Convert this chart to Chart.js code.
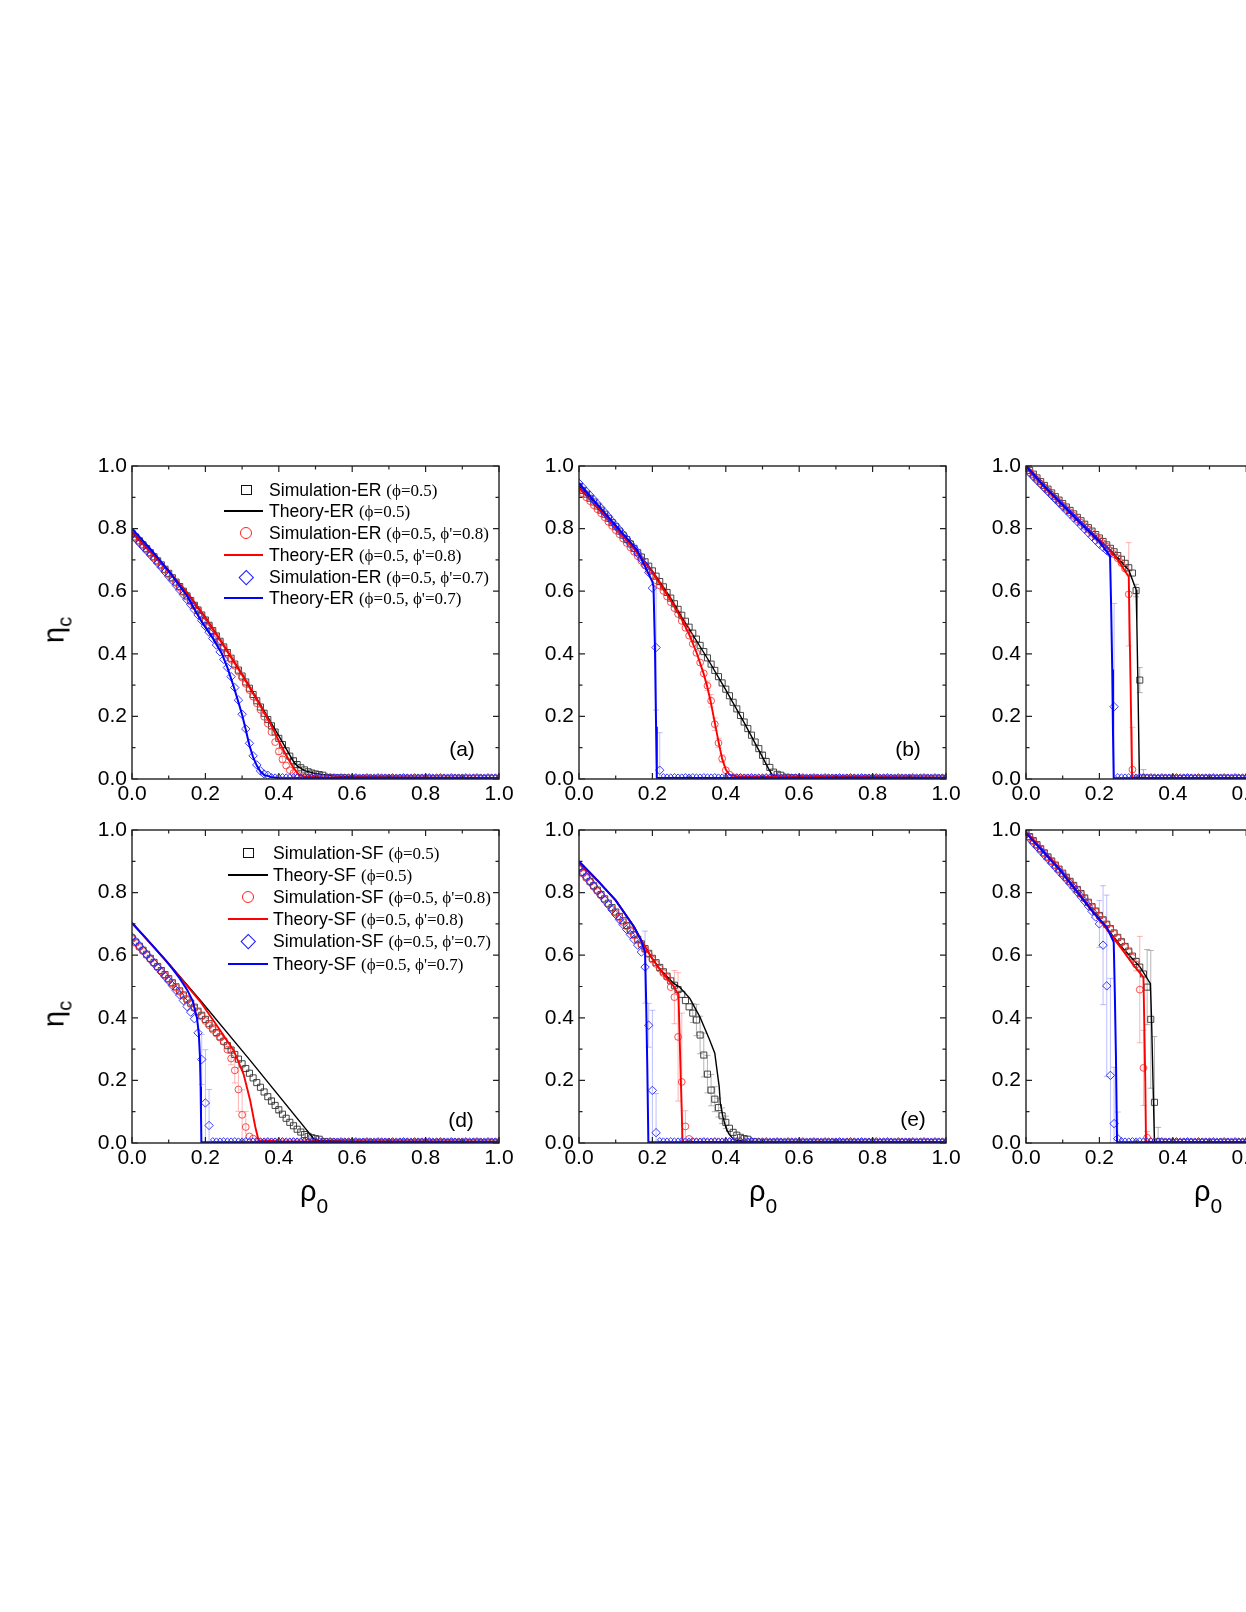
<!DOCTYPE html>
<html><head><meta charset="utf-8">
<script src="https://cdn.jsdelivr.net/npm/chart.js@4/dist/chart.umd.min.js"></script>
<style>
html,body{margin:0;padding:0;width:1246px;height:1612px;overflow:hidden;background:#fff;}
.panel{position:absolute;}
.abs{position:absolute;white-space:nowrap;color:#000;line-height:1;}
.sans{font-family:"Liberation Sans",Arial,sans-serif;}
.serif{font-family:"Liberation Serif","DejaVu Serif",serif;}
.row{position:absolute;height:22px;line-height:22px;white-space:nowrap;}
</style></head><body>
<div class="panel" style="left:62px;top:446px"><canvas id="ca" width="477" height="373"></canvas></div>
<div class="panel" style="left:509px;top:446px"><canvas id="cb" width="477" height="373"></canvas></div>
<div class="panel" style="left:956px;top:446px"><canvas id="cc" width="477" height="373"></canvas></div>
<div class="panel" style="left:62px;top:810px"><canvas id="cd" width="477" height="373"></canvas></div>
<div class="panel" style="left:509px;top:810px"><canvas id="ce" width="477" height="373"></canvas></div>
<div class="panel" style="left:956px;top:810px"><canvas id="cf" width="477" height="373"></canvas></div>
<div id="overlay"></div>
<script>
// ---------- data ----------
const RHO = [0,0.01,0.02,0.03,0.04,0.05,0.06,0.07,0.08,0.09,
0.10,0.11,0.12,0.13,0.14,0.15,0.16,0.17,0.18,0.19,
0.20,0.21,0.22,0.23,0.24,0.25,0.26,0.27,0.28,0.29,
0.30,0.31,0.32,0.33,0.34,0.35,0.36,0.37,0.38,0.39,
0.40,0.41,0.42,0.43,0.44,0.45,0.46,0.47,0.48,0.49,
0.50,0.51,0.52,0.53,0.54,0.55,0.56,0.57,0.58,0.59,
0.60,0.61,0.62,0.63,0.64,0.65,0.66,0.67,0.68,0.69,
0.70,0.71,0.72,0.73,0.74,0.75,0.76,0.77,0.78,0.79,
0.80,0.81,0.82,0.83,0.84,0.85,0.86,0.87,0.88,0.89,
0.90,0.91,0.92,0.93,0.94,0.95,0.96,0.97,0.98,0.99,1.00];
const X_TICKS = [0,0.2,0.4,0.6,0.8,1.0];
const Y_TICKS = [0,0.2,0.4,0.6,0.8,1.0];
const MINOR_TICKS = [0.1,0.3,0.5,0.7,0.9];
const PANEL_TAGS = ['(a)','(b)','(c)','(d)','(e)','(f)'];
const NAMES_ER = ['Simulation-ER','Theory-ER','Simulation-ER','Theory-ER','Simulation-ER','Theory-ER'];
const NAMES_SF = ['Simulation-SF','Theory-SF','Simulation-SF','Theory-SF','Simulation-SF','Theory-SF'];
const PARAMS = ['(ϕ=0.5)','(ϕ=0.5)',"(ϕ=0.5, ϕ'=0.8)","(ϕ=0.5, ϕ'=0.8)","(ϕ=0.5, ϕ'=0.7)","(ϕ=0.5, ϕ'=0.7)"];

// panel (a) ER
const A_BLACK = [0.785,0.773,0.761,0.748,0.736,0.723,0.710,0.697,0.684,0.670,
0.657,0.643,0.629,0.615,0.600,0.585,0.570,0.555,0.540,0.524,
0.508,0.491,0.474,0.457,0.440,0.422,0.404,0.386,0.367,0.348,
0.329,0.310,0.290,0.270,0.250,0.230,0.210,0.190,0.170,0.150,
0.130,0.110,0.090,0.073,0.058,0.046,0.036,0.029,0.023,0.019,
0.016,0.014,0.012,0.011,0.010,0.010,0.009,0.009,0.009,0.008,
0.007,0.007,0.006,0.007,0.007,0.007,0.006,0.007,0.007,0.007,
0.007,0.007,0.006,0.007,0.007,0.007,0.006,0.007,0.007,0.007,
0.007,0.007,0.006,0.007,0.007,0.007,0.006,0.007,0.007,0.007,
0.007,0.007,0.006,0.007,0.007,0.007,0.006,0.007,0.007,0.007,0.007];
const A_RED = [0.780,0.769,0.757,0.745,0.733,0.720,0.707,0.694,0.681,0.668,
0.654,0.640,0.626,0.612,0.597,0.582,0.567,0.552,0.537,0.521,
0.505,0.488,0.471,0.454,0.436,0.418,0.400,0.381,0.362,0.343,
0.324,0.304,0.284,0.263,0.242,0.221,0.199,0.177,0.150,0.118,
0.088,0.063,0.043,0.028,0.019,0.014,0.011,0.010,0.009,0.009,
0.008,0.008,0.007,0.008,0.008,0.008,0.007,0.008,0.008,0.008,
0.008,0.008,0.007,0.008,0.008,0.008,0.007,0.008,0.008,0.008,
0.008,0.008,0.007,0.008,0.008,0.008,0.007,0.008,0.008,0.008,
0.008,0.008,0.007,0.008,0.008,0.008,0.007,0.008,0.008,0.008,
0.008,0.008,0.007,0.008,0.008,0.008,0.007,0.008,0.008,0.008,0.008];
const A_BLUE = [0.780,0.768,0.755,0.742,0.729,0.716,0.703,0.690,0.676,0.662,
0.648,0.634,0.619,0.604,0.589,0.573,0.557,0.541,0.524,0.506,
0.488,0.469,0.449,0.428,0.406,0.382,0.356,0.327,0.292,0.252,
0.207,0.160,0.114,0.074,0.045,0.026,0.016,0.012,0.010,0.009,
0.009,0.010,0.009,0.009,0.010,0.009,0.009,0.010,0.009,0.009,
0.009,0.010,0.009,0.009,0.010,0.009,0.009,0.010,0.009,0.009,
0.009,0.010,0.009,0.009,0.010,0.009,0.009,0.010,0.009,0.009,
0.009,0.010,0.009,0.009,0.010,0.009,0.009,0.010,0.009,0.009,
0.009,0.010,0.009,0.009,0.010,0.009,0.009,0.010,0.009,0.009,
0.009,0.010,0.009,0.009,0.010,0.009,0.009,0.010,0.009,0.009,0.009];
const TH_A_BLACK = [[0,0.79],[0.05,0.728],[0.1,0.665],[0.15,0.597],[0.2,0.517],[0.25,0.428],[0.3,0.335],[0.35,0.238],[0.4,0.138],[0.43,0.076],[0.44,0.056],[0.45,0.042],[0.47,0.027],[0.5,0.017],[0.55,0.01],[0.6,0.007],[0.8,0.005],[1,0.004]];
const TH_A_RED = [[0,0.786],[0.05,0.725],[0.1,0.662],[0.15,0.594],[0.2,0.514],[0.25,0.425],[0.3,0.332],[0.35,0.233],[0.38,0.17],[0.4,0.122],[0.42,0.076],[0.44,0.036],[0.455,0.013],[0.47,0.008],[0.5,0.006],[1,0.003]];
const TH_A_BLUE = [[0,0.80],[0.05,0.735],[0.1,0.665],[0.15,0.585],[0.19,0.502],[0.22,0.45],[0.245,0.40],[0.26,0.356],[0.277,0.296],[0.29,0.245],[0.3,0.205],[0.31,0.157],[0.32,0.107],[0.33,0.07],[0.34,0.043],[0.35,0.024],[0.36,0.013],[0.38,0.006],[0.4,0.003],[1,0.002]];
const ERR_A_BLACK = [[0.44,0.01],[0.45,0.01]];
const ERR_A_RED = [[0.40,0.01],[0.41,0.01]];
const ERR_A_BLUE = [];

// panel (b)
const B_BLACK = [0.935,0.922,0.910,0.897,0.885,0.872,0.859,0.846,0.833,0.819,
0.806,0.792,0.779,0.765,0.751,0.737,0.723,0.709,0.694,0.680,
0.665,0.648,0.631,0.614,0.596,0.578,0.560,0.542,0.523,0.504,
0.485,0.466,0.447,0.427,0.407,0.387,0.367,0.347,0.327,0.307,
0.287,0.266,0.245,0.224,0.203,0.182,0.161,0.140,0.118,0.097,
0.076,0.056,0.037,0.022,0.015,0.012,0.011,0.010,0.009,0.009,
0.007,0.007,0.006,0.007,0.007,0.007,0.006,0.007,0.007,0.007,
0.007,0.007,0.006,0.007,0.007,0.007,0.006,0.007,0.007,0.007,
0.007,0.007,0.006,0.007,0.007,0.007,0.006,0.007,0.007,0.007,
0.007,0.007,0.006,0.007,0.007,0.007,0.006,0.007,0.007,0.007,0.007];
const B_RED = [0.925,0.913,0.900,0.888,0.875,0.862,0.849,0.836,0.822,0.809,
0.795,0.782,0.768,0.754,0.740,0.726,0.712,0.697,0.682,0.667,
0.651,0.635,0.618,0.601,0.583,0.565,0.546,0.527,0.505,0.483,
0.458,0.432,0.403,0.372,0.337,0.298,0.250,0.175,0.115,0.065,
0.028,0.014,0.011,0.010,0.009,0.009,0.009,0.008,0.008,0.008,
0.008,0.008,0.007,0.008,0.008,0.008,0.007,0.008,0.008,0.008,
0.008,0.008,0.007,0.008,0.008,0.008,0.007,0.008,0.008,0.008,
0.008,0.008,0.007,0.008,0.008,0.008,0.007,0.008,0.008,0.008,
0.008,0.008,0.007,0.008,0.008,0.008,0.007,0.008,0.008,0.008,
0.008,0.008,0.007,0.008,0.008,0.008,0.007,0.008,0.008,0.008,0.008];
const B_BLUE = [0.945,0.932,0.919,0.906,0.893,0.879,0.866,0.852,0.838,0.824,
0.810,0.796,0.782,0.767,0.752,0.737,0.720,0.702,0.683,0.660,
0.610,0.420,0.028,0.010,0.009,0.009,0.010,0.009,0.009,0.010,
0.009,0.010,0.009,0.009,0.010,0.009,0.009,0.010,0.009,0.009,
0.009,0.010,0.009,0.009,0.010,0.009,0.009,0.010,0.009,0.009,
0.009,0.010,0.009,0.009,0.010,0.009,0.009,0.010,0.009,0.009,
0.009,0.010,0.009,0.009,0.010,0.009,0.009,0.010,0.009,0.009,
0.009,0.010,0.009,0.009,0.010,0.009,0.009,0.010,0.009,0.009,
0.009,0.010,0.009,0.009,0.010,0.009,0.009,0.010,0.009,0.009,
0.009,0.010,0.009,0.009,0.010,0.009,0.009,0.010,0.009,0.009,0.009];
const TH_B_BLACK = [[0,0.938],[0.05,0.872],[0.1,0.805],[0.15,0.738],[0.2,0.665],[0.25,0.578],[0.28,0.517],[0.3,0.48],[0.35,0.385],[0.4,0.285],[0.45,0.18],[0.5,0.07],[0.52,0.025],[0.527,0.013],[0.54,0.01],[0.6,0.008],[1,0.005]];
const TH_B_RED = [[0,0.93],[0.05,0.868],[0.1,0.802],[0.15,0.735],[0.2,0.66],[0.25,0.57],[0.28,0.51],[0.3,0.462],[0.32,0.405],[0.34,0.335],[0.35,0.292],[0.36,0.24],[0.37,0.18],[0.38,0.12],[0.39,0.065],[0.4,0.03],[0.41,0.013],[0.43,0.009],[0.5,0.007],[1,0.004]];
const TH_B_BLUE = [[0,0.945],[0.048,0.88],[0.103,0.806],[0.158,0.732],[0.189,0.657],[0.2,0.63],[0.203,0.614],[0.207,0.417],[0.21,0.167],[0.212,0.003],[0.25,0.003],[1,0.002]];
const ERR_B_BLACK = [[0.50,0.01],[0.51,0.01]];
const ERR_B_RED = [[0.35,0.015],[0.36,0.02],[0.37,0.02],[0.38,0.015],[0.39,0.012]];
const ERR_B_BLUE = [[0.21,0.2],[0.22,0.12]];

// panel (c)
const C_BLACK = [0.998,0.986,0.974,0.962,0.950,0.938,0.926,0.914,0.902,0.891,
0.880,0.869,0.858,0.847,0.836,0.825,0.814,0.803,0.792,0.781,
0.770,0.759,0.748,0.737,0.726,0.714,0.702,0.689,0.675,0.658,
0.602,0.316,0.010,0.008,0.007,0.007,0.006,0.007,0.007,0.007,
0.007,0.007,0.006,0.007,0.007,0.007,0.006,0.007,0.007,0.007,
0.007,0.007,0.006,0.007,0.007,0.007,0.006,0.007,0.007,0.007,
0.007,0.007,0.006,0.007,0.007,0.007,0.006,0.007,0.007,0.007,
0.007,0.007,0.006,0.007,0.007,0.007,0.006,0.007,0.007,0.007,
0.007,0.007,0.006,0.007,0.007,0.007,0.006,0.007,0.007,0.007,
0.007,0.007,0.006,0.007,0.007,0.007,0.006,0.007,0.007,0.007,0.007];
const C_RED = [0.992,0.980,0.968,0.956,0.944,0.932,0.920,0.908,0.896,0.885,
0.874,0.863,0.852,0.841,0.830,0.819,0.808,0.797,0.786,0.775,
0.764,0.753,0.742,0.730,0.718,0.705,0.690,0.672,0.590,0.030,
0.008,0.008,0.007,0.008,0.008,0.008,0.007,0.008,0.008,0.008,
0.008,0.008,0.007,0.008,0.008,0.008,0.007,0.008,0.008,0.008,
0.008,0.008,0.007,0.008,0.008,0.008,0.007,0.008,0.008,0.008,
0.008,0.008,0.007,0.008,0.008,0.008,0.007,0.008,0.008,0.008,
0.008,0.008,0.007,0.008,0.008,0.008,0.007,0.008,0.008,0.008,
0.008,0.008,0.007,0.008,0.008,0.008,0.007,0.008,0.008,0.008,
0.008,0.008,0.007,0.008,0.008,0.008,0.007,0.008,0.008,0.008,0.008];
const C_BLUE = [0.990,0.978,0.966,0.954,0.942,0.930,0.918,0.906,0.894,0.882,
0.870,0.858,0.846,0.834,0.822,0.810,0.798,0.786,0.774,0.762,
0.750,0.740,0.730,0.720,0.231,0.010,0.009,0.009,0.010,0.009,
0.009,0.010,0.009,0.009,0.010,0.009,0.009,0.010,0.009,0.009,
0.009,0.010,0.009,0.009,0.010,0.009,0.009,0.010,0.009,0.009,
0.009,0.010,0.009,0.009,0.010,0.009,0.009,0.010,0.009,0.009,
0.009,0.010,0.009,0.009,0.010,0.009,0.009,0.010,0.009,0.009,
0.009,0.010,0.009,0.009,0.010,0.009,0.009,0.010,0.009,0.009,
0.009,0.010,0.009,0.009,0.010,0.009,0.009,0.010,0.009,0.009,
0.009,0.010,0.009,0.009,0.010,0.009,0.009,0.010,0.009,0.009,0.009];
const TH_C_BLACK = [[0,0.998],[0.05,0.936],[0.1,0.877],[0.15,0.82],[0.2,0.765],[0.25,0.705],[0.28,0.668],[0.3,0.605],[0.302,0.5],[0.305,0.3],[0.307,0.15],[0.309,0.003],[1,0.003]];
const TH_C_RED = [[0,0.995],[0.05,0.932],[0.1,0.874],[0.15,0.817],[0.2,0.762],[0.22,0.742],[0.25,0.70],[0.28,0.646],[0.282,0.5],[0.285,0.3],[0.287,0.15],[0.289,0.003],[1,0.003]];
const TH_C_BLUE = [[0,1.0],[0.05,0.935],[0.1,0.875],[0.15,0.815],[0.2,0.758],[0.229,0.712],[0.232,0.55],[0.235,0.35],[0.237,0.15],[0.239,0.003],[1,0.002]];
const ERR_C_BLACK = [[0.30,0.02],[0.31,0.04],[0.32,0.02]];
const ERR_C_RED = [[0.28,0.165],[0.29,0.135]];
const ERR_C_BLUE = [[0.24,0.33]];

// panel (d) SF
const D_BLACK = [0.655,0.642,0.629,0.616,0.603,0.590,0.577,0.564,0.551,0.538,
0.525,0.512,0.499,0.486,0.473,0.460,0.447,0.434,0.421,0.408,
0.395,0.381,0.367,0.353,0.339,0.325,0.311,0.297,0.283,0.268,
0.253,0.238,0.223,0.208,0.193,0.178,0.163,0.148,0.134,0.120,
0.106,0.092,0.079,0.066,0.055,0.044,0.035,0.027,0.021,0.017,
0.014,0.012,0.010,0.009,0.008,0.008,0.007,0.007,0.007,0.007,
0.007,0.007,0.006,0.007,0.007,0.007,0.006,0.007,0.007,0.007,
0.007,0.007,0.006,0.007,0.007,0.007,0.006,0.007,0.007,0.007,
0.007,0.007,0.006,0.007,0.007,0.007,0.006,0.007,0.007,0.007,
0.007,0.007,0.006,0.007,0.007,0.007,0.006,0.007,0.007,0.007,0.007];
const D_RED = [0.652,0.639,0.626,0.613,0.600,0.587,0.574,0.561,0.548,0.535,
0.522,0.509,0.496,0.483,0.470,0.457,0.444,0.431,0.418,0.404,
0.390,0.376,0.362,0.350,0.337,0.323,0.298,0.270,0.232,0.171,
0.090,0.051,0.021,0.014,0.010,0.009,0.008,0.008,0.008,0.008,
0.008,0.008,0.007,0.008,0.008,0.008,0.007,0.008,0.008,0.008,
0.008,0.008,0.007,0.008,0.008,0.008,0.007,0.008,0.008,0.008,
0.008,0.008,0.007,0.008,0.008,0.008,0.007,0.008,0.008,0.008,
0.008,0.008,0.007,0.008,0.008,0.008,0.007,0.008,0.008,0.008,
0.008,0.008,0.007,0.008,0.008,0.008,0.007,0.008,0.008,0.008,
0.008,0.008,0.007,0.008,0.008,0.008,0.007,0.008,0.008,0.008,0.008];
const D_BLUE = [0.658,0.644,0.630,0.616,0.602,0.588,0.574,0.560,0.546,0.532,
0.518,0.503,0.488,0.473,0.455,0.436,0.418,0.397,0.352,0.267,
0.128,0.056,0.010,0.009,0.009,0.010,0.009,0.009,0.010,0.009,
0.009,0.010,0.009,0.009,0.010,0.009,0.009,0.010,0.009,0.009,
0.009,0.010,0.009,0.009,0.010,0.009,0.009,0.010,0.009,0.009,
0.009,0.010,0.009,0.009,0.010,0.009,0.009,0.010,0.009,0.009,
0.009,0.010,0.009,0.009,0.010,0.009,0.009,0.010,0.009,0.009,
0.009,0.010,0.009,0.009,0.010,0.009,0.009,0.010,0.009,0.009,
0.009,0.010,0.009,0.009,0.010,0.009,0.009,0.010,0.009,0.009,
0.009,0.010,0.009,0.009,0.010,0.009,0.009,0.010,0.009,0.009,0.009];
const TH_D_BLACK = [[0,0.703],[0.1,0.574],[0.186,0.456],[0.322,0.264],[0.495,0.014],[0.51,0.008],[0.6,0.006],[1,0.005]];
const TH_D_RED = [[0,0.703],[0.1,0.572],[0.186,0.452],[0.24,0.36],[0.277,0.296],[0.304,0.22],[0.322,0.136],[0.336,0.051],[0.345,0.008],[0.4,0.006],[1,0.004]];
const TH_D_BLUE = [[0,0.703],[0.03,0.665],[0.06,0.626],[0.09,0.586],[0.11,0.557],[0.13,0.526],[0.15,0.49],[0.165,0.455],[0.177,0.40],[0.182,0.35],[0.185,0.28],[0.187,0.18],[0.188,0.09],[0.189,0.003],[1,0.002]];
const ERR_D_BLACK = [[0.38,0.01],[0.40,0.01]];
const ERR_D_RED = [[0.27,0.02],[0.28,0.04],[0.29,0.07],[0.30,0.08],[0.31,0.05]];
const ERR_D_BLUE = [[0.19,0.08],[0.20,0.17],[0.21,0.115]];

// panel (e)
const E_BLACK = [0.878,0.864,0.850,0.836,0.822,0.808,0.794,0.780,0.766,0.752,
0.738,0.724,0.710,0.695,0.680,0.666,0.651,0.636,0.621,0.606,
0.590,0.576,0.561,0.547,0.533,0.518,0.504,0.490,0.475,0.455,
0.435,0.415,0.393,0.345,0.281,0.220,0.169,0.140,0.113,0.087,
0.066,0.047,0.034,0.025,0.018,0.014,0.012,0.010,0.009,0.008,
0.007,0.007,0.006,0.007,0.007,0.007,0.006,0.007,0.007,0.007,
0.007,0.007,0.006,0.007,0.007,0.007,0.006,0.007,0.007,0.007,
0.007,0.007,0.006,0.007,0.007,0.007,0.006,0.007,0.007,0.007,
0.007,0.007,0.006,0.007,0.007,0.007,0.006,0.007,0.007,0.007,
0.007,0.007,0.006,0.007,0.007,0.007,0.006,0.007,0.007,0.007,0.007];
const E_RED = [0.875,0.861,0.847,0.833,0.819,0.805,0.791,0.777,0.763,0.749,
0.735,0.720,0.706,0.692,0.677,0.663,0.648,0.633,0.618,0.603,
0.586,0.572,0.557,0.543,0.530,0.498,0.466,0.339,0.195,0.053,
0.013,0.009,0.008,0.008,0.008,0.007,0.008,0.008,0.008,0.008,
0.008,0.008,0.007,0.008,0.008,0.008,0.007,0.008,0.008,0.008,
0.008,0.008,0.007,0.008,0.008,0.008,0.007,0.008,0.008,0.008,
0.008,0.008,0.007,0.008,0.008,0.008,0.007,0.008,0.008,0.008,
0.008,0.008,0.007,0.008,0.008,0.008,0.007,0.008,0.008,0.008,
0.008,0.008,0.007,0.008,0.008,0.008,0.007,0.008,0.008,0.008,
0.008,0.008,0.007,0.008,0.008,0.008,0.007,0.008,0.008,0.008,0.008];
const E_BLUE = [0.880,0.866,0.851,0.836,0.821,0.806,0.791,0.776,0.761,0.745,
0.730,0.714,0.698,0.682,0.666,0.650,0.632,0.610,0.562,0.376,
0.168,0.033,0.010,0.009,0.009,0.010,0.009,0.009,0.010,0.009,
0.009,0.010,0.009,0.009,0.010,0.009,0.009,0.010,0.009,0.009,
0.009,0.010,0.009,0.009,0.010,0.009,0.009,0.010,0.009,0.009,
0.009,0.010,0.009,0.009,0.010,0.009,0.009,0.010,0.009,0.009,
0.009,0.010,0.009,0.009,0.010,0.009,0.009,0.010,0.009,0.009,
0.009,0.010,0.009,0.009,0.010,0.009,0.009,0.010,0.009,0.009,
0.009,0.010,0.009,0.009,0.010,0.009,0.009,0.010,0.009,0.009,
0.009,0.010,0.009,0.009,0.010,0.009,0.009,0.010,0.009,0.009,0.009];
const TH_E_BLACK = [[0,0.897],[0.05,0.839],[0.1,0.776],[0.15,0.692],[0.18,0.627],[0.2,0.59],[0.221,0.555],[0.258,0.51],[0.274,0.498],[0.302,0.462],[0.329,0.404],[0.356,0.329],[0.37,0.287],[0.376,0.233],[0.382,0.18],[0.385,0.127],[0.392,0.084],[0.4,0.05],[0.408,0.03],[0.422,0.01],[0.45,0.006],[1,0.004]];
const TH_E_RED = [[0,0.895],[0.05,0.838],[0.1,0.775],[0.15,0.69],[0.18,0.625],[0.2,0.588],[0.221,0.553],[0.258,0.5],[0.271,0.474],[0.274,0.35],[0.277,0.22],[0.28,0.1],[0.282,0.003],[1,0.003]];
const TH_E_BLUE = [[0,0.90],[0.05,0.84],[0.1,0.775],[0.15,0.69],[0.17,0.645],[0.18,0.61],[0.183,0.45],[0.186,0.25],[0.189,0.003],[1,0.002]];
const ERR_E_BLACK = [[0.31,0.03],[0.32,0.05],[0.33,0.06],[0.34,0.07],[0.35,0.06],[0.36,0.05],[0.37,0.04],[0.38,0.03],[0.39,0.025],[0.40,0.02]];
const ERR_E_RED = [[0.26,0.085],[0.27,0.205],[0.28,0.22],[0.29,0.05]];
const ERR_E_BLUE = [[0.18,0.115],[0.19,0.07],[0.20,0.256],[0.21,0.125]];

// panel (f)
const F_BLACK = [0.992,0.979,0.966,0.953,0.940,0.927,0.914,0.901,0.888,0.875,
0.862,0.849,0.836,0.823,0.810,0.797,0.783,0.769,0.755,0.741,
0.727,0.713,0.699,0.685,0.671,0.657,0.643,0.628,0.613,0.597,
0.580,0.562,0.540,0.498,0.395,0.130,0.010,0.008,0.007,0.007,
0.007,0.007,0.006,0.007,0.007,0.007,0.006,0.007,0.007,0.007,
0.007,0.007,0.006,0.007,0.007,0.007,0.006,0.007,0.007,0.007,
0.007,0.007,0.006,0.007,0.007,0.007,0.006,0.007,0.007,0.007,
0.007,0.007,0.006,0.007,0.007,0.007,0.006,0.007,0.007,0.007,
0.007,0.007,0.006,0.007,0.007,0.007,0.006,0.007,0.007,0.007,
0.007,0.007,0.006,0.007,0.007,0.007,0.006,0.007,0.007,0.007,0.007];
const F_RED = [0.990,0.977,0.964,0.951,0.938,0.925,0.912,0.899,0.886,0.873,
0.860,0.847,0.834,0.821,0.808,0.795,0.781,0.767,0.753,0.739,
0.725,0.711,0.697,0.683,0.669,0.655,0.641,0.626,0.610,0.592,
0.570,0.490,0.240,0.017,0.009,0.008,0.008,0.007,0.008,0.008,
0.008,0.008,0.007,0.008,0.008,0.008,0.007,0.008,0.008,0.008,
0.008,0.008,0.007,0.008,0.008,0.008,0.007,0.008,0.008,0.008,
0.008,0.008,0.007,0.008,0.008,0.008,0.007,0.008,0.008,0.008,
0.008,0.008,0.007,0.008,0.008,0.008,0.007,0.008,0.008,0.008,
0.008,0.008,0.007,0.008,0.008,0.008,0.007,0.008,0.008,0.008,
0.008,0.008,0.007,0.008,0.008,0.008,0.007,0.008,0.008,0.008,0.008];
const F_BLUE = [0.985,0.972,0.959,0.946,0.933,0.920,0.907,0.894,0.881,0.868,
0.855,0.842,0.829,0.815,0.801,0.787,0.772,0.757,0.740,0.722,
0.700,0.632,0.502,0.216,0.062,0.014,0.010,0.009,0.009,0.010,
0.009,0.010,0.009,0.009,0.010,0.009,0.009,0.010,0.009,0.009,
0.009,0.010,0.009,0.009,0.010,0.009,0.009,0.010,0.009,0.009,
0.009,0.010,0.009,0.009,0.010,0.009,0.009,0.010,0.009,0.009,
0.009,0.010,0.009,0.009,0.010,0.009,0.009,0.010,0.009,0.009,
0.009,0.010,0.009,0.009,0.010,0.009,0.009,0.010,0.009,0.009,
0.009,0.010,0.009,0.009,0.010,0.009,0.009,0.010,0.009,0.009,
0.009,0.010,0.009,0.009,0.010,0.009,0.009,0.010,0.009,0.009,0.009];
const TH_F_BLACK = [[0,0.994],[0.093,0.875],[0.184,0.74],[0.26,0.627],[0.311,0.562],[0.339,0.509],[0.342,0.4],[0.346,0.2],[0.35,0.003],[1,0.003]];
const TH_F_RED = [[0,0.992],[0.093,0.873],[0.184,0.738],[0.257,0.626],[0.293,0.568],[0.32,0.53],[0.322,0.4],[0.325,0.2],[0.327,0.003],[1,0.003]];
const TH_F_BLUE = [[0,0.99],[0.093,0.871],[0.184,0.735],[0.22,0.69],[0.239,0.642],[0.242,0.48],[0.245,0.28],[0.248,0.003],[1,0.002]];
const ERR_F_BLACK = [[0.33,0.12],[0.34,0.22],[0.35,0.21],[0.36,0.04]];
const ERR_F_RED = [[0.30,0.02],[0.31,0.17],[0.32,0.12],[0.33,0.02]];
const ERR_F_BLUE = [[0.20,0.075],[0.21,0.19],[0.22,0.29],[0.23,0.31],[0.24,0.18],[0.25,0.085]];

// ---------- presentation ----------
const FONT = '"Liberation Sans", Arial, sans-serif';
const STYLE = [
  {mark:'rgba(50,50,50,0.9)', line:'#000000', err:'rgba(110,110,110,0.5)', shape:'rect', r:4.3, rs:2.2, lw:1.4},
  {mark:'rgba(255,45,45,0.85)', line:'#ff0000', err:'rgba(255,70,70,0.4)', shape:'circle', r:3.4, rs:1.8, lw:1.9},
  {mark:'rgba(35,35,255,0.9)', line:'#0000ff', err:'rgba(70,70,255,0.35)', shape:'rectRot', r:4.2, rs:2.3, lw:2}
];
const PANELS = [
  {cv:'ca', sim:[A_BLACK,A_RED,A_BLUE], th:[TH_A_BLACK,TH_A_RED,TH_A_BLUE], err:[ERR_A_BLACK,ERR_A_RED,ERR_A_BLUE]},
  {cv:'cb', sim:[B_BLACK,B_RED,B_BLUE], th:[TH_B_BLACK,TH_B_RED,TH_B_BLUE], err:[ERR_B_BLACK,ERR_B_RED,ERR_B_BLUE]},
  {cv:'cc', sim:[C_BLACK,C_RED,C_BLUE], th:[TH_C_BLACK,TH_C_RED,TH_C_BLUE], err:[ERR_C_BLACK,ERR_C_RED,ERR_C_BLUE]},
  {cv:'cd', sim:[D_BLACK,D_RED,D_BLUE], th:[TH_D_BLACK,TH_D_RED,TH_D_BLUE], err:[ERR_D_BLACK,ERR_D_RED,ERR_D_BLUE]},
  {cv:'ce', sim:[E_BLACK,E_RED,E_BLUE], th:[TH_E_BLACK,TH_E_RED,TH_E_BLUE], err:[ERR_E_BLACK,ERR_E_RED,ERR_E_BLUE]},
  {cv:'cf', sim:[F_BLACK,F_RED,F_BLUE], th:[TH_F_BLACK,TH_F_RED,TH_F_BLUE], err:[ERR_F_BLACK,ERR_F_RED,ERR_F_BLUE]}
];

function simPoints(arr){ return RHO.map((x,i)=>({x:x, y:arr[i]})); }
function pairPoints(arr){ return arr.map(p=>({x:p[0], y:p[1]})); }

const errPlugin = {
  id:'errbars',
  beforeDatasetsDraw(chart){
    const {ctx, chartArea:a, scales:{x,y}} = chart;
    ctx.save();
    ctx.beginPath(); ctx.rect(a.left, a.top, a.right-a.left, a.bottom-a.top); ctx.clip();
    chart.data.datasets.forEach(ds=>{
      if(!ds.errs) return;
      ctx.strokeStyle = ds.errColor; ctx.lineWidth = 1;
      ds.errs.forEach(([xv,e])=>{
        const pt = ds.data.find(d=>Math.abs(d.x-xv)<1e-6);
        if(!pt) return;
        const px = x.getPixelForValue(xv);
        const y1 = y.getPixelForValue(Math.min(1, pt.y+e));
        const y2 = y.getPixelForValue(Math.max(0, pt.y-e));
        ctx.beginPath();
        ctx.moveTo(px,y1); ctx.lineTo(px,y2);
        ctx.moveTo(px-3,y1); ctx.lineTo(px+3,y1);
        ctx.moveTo(px-3,y2); ctx.lineTo(px+3,y2);
        ctx.stroke();
      });
    });
    ctx.restore();
  }
};
const framePlugin = {
  id:'frame',
  afterDatasetsDraw(chart){
    const {ctx, chartArea:a, scales:{x,y}} = chart;
    ctx.save();
    ctx.strokeStyle = '#222'; ctx.lineWidth = 1.4;
    ctx.strokeRect(a.left, a.top, a.right-a.left, a.bottom-a.top);
    ctx.lineWidth = 1.2;
    ctx.beginPath();
    const tick = (v,len)=>{
      const px = x.getPixelForValue(v), py = y.getPixelForValue(v);
      ctx.moveTo(px,a.bottom); ctx.lineTo(px,a.bottom-len);
      ctx.moveTo(px,a.top); ctx.lineTo(px,a.top+len);
      ctx.moveTo(a.left,py); ctx.lineTo(a.left+len,py);
      ctx.moveTo(a.right,py); ctx.lineTo(a.right-len,py);
    };
    X_TICKS.forEach(v=>tick(v,6));
    MINOR_TICKS.forEach(v=>tick(v,3.5));
    ctx.stroke();
    ctx.restore();
  }
};

function buildDatasets(p){
  const ds = [];
  for(let k=0;k<3;k++){
    const st = STYLE[k];
    ds.push({data: simPoints(p.sim[k]), showLine:false, pointStyle:st.shape,
      pointRadius: c => (c.raw && c.raw.y < 0.012) ? st.rs : st.r,
      pointBorderColor: st.mark, pointBackgroundColor:'rgba(0,0,0,0)', pointBorderWidth:1,
      order: 5-2*k, errs: p.err[k], errColor: st.err});
    ds.push({data: pairPoints(p.th[k]), showLine:true, borderColor:st.line, borderWidth:st.lw,
      pointRadius:0, tension:0, fill:false, order: 4-2*k});
  }
  return ds;
}

PANELS.forEach(p=>{
  new Chart(document.getElementById(p.cv), {
    type:'scatter',
    data:{datasets: buildDatasets(p)},
    options:{
      responsive:false, animation:false, events:[],
      layout:{padding:{left:0, top:20, right:40, bottom:0}},
      plugins:{legend:{display:false}, tooltip:{enabled:false}},
      scales:{
        x:{type:'linear', min:0, max:1,
          afterBuildTicks: s=>{ s.ticks = X_TICKS.map(v=>({value:v})); },
          afterFit: s=>{ s.height = 40; },
          grid:{display:false, drawTicks:false}, border:{display:false},
          ticks:{font:{family:FONT, size:21}, color:'#000', padding:3, maxRotation:0, autoSkip:false,
            callback: v=>Number(v).toFixed(1)}},
        y:{type:'linear', min:0, max:1,
          afterBuildTicks: s=>{ s.ticks = Y_TICKS.map(v=>({value:v})); },
          afterFit: s=>{ s.width = 70; },
          grid:{display:false, drawTicks:false}, border:{display:false},
          ticks:{font:{family:FONT, size:21}, color:'#000', padding:5, autoSkip:false,
            callback: v=>Number(v).toFixed(1)}}
      }
    },
    plugins:[errPlugin, framePlugin]
  });
});

// ---------- HTML text: legends, axis titles, panel tags ----------
const ov = document.getElementById('overlay');
function addLegend(names, y0, step, cx, lineL, lineR, textL){
  names.forEach((nm,i)=>{
    const cy = y0 + i*step;
    const k = Math.floor(i/2), st = STYLE[k];
    let sym;
    if(i%2===1){
      sym = `<div style="position:absolute;left:${lineL}px;top:${Math.round(cy-1)}px;width:${lineR-lineL}px;height:2px;background:${st.line}"></div>`;
    } else if(k===0){
      sym = `<div style="position:absolute;left:${cx-5}px;top:${cy-5}px;width:8.5px;height:8.5px;border:1.2px solid #111"></div>`;
    } else if(k===1){
      sym = `<div style="position:absolute;left:${cx-6}px;top:${cy-6}px;width:10px;height:10px;border:1.2px solid #ff2020;border-radius:50%"></div>`;
    } else {
      sym = `<div style="position:absolute;left:${cx-5}px;top:${cy-5}px;width:8.5px;height:8.5px;border:1.2px solid #1a1aff;transform:rotate(45deg)"></div>`;
    }
    ov.insertAdjacentHTML('beforeend', sym +
      `<div class="row" style="left:${textL}px;top:${cy-11}px"><span class="sans" style="font-size:17.6px">${nm} </span><span class="serif" style="font-size:17px">${PARAMS[i]}</span></div>`);
  });
}
addLegend(NAMES_ER, 489.7, 21.7, 246, 224, 263, 269);
addLegend(NAMES_SF, 852.5, 22.2, 248, 228, 268, 273);

function centered(html, cx, cy, extra){
  ov.insertAdjacentHTML('beforeend',
    `<div class="abs sans" style="left:${cx}px;top:${cy}px;transform:translate(-50%,-50%) ${extra||''}">${html}</div>`);
}
const ETA = '<span style="font-size:29px">η</span><span style="font-size:20px;position:relative;top:8px">c</span>';
const RHO0 = '<span style="font-size:29px">ρ</span><span style="font-size:21px;position:relative;top:12px">0</span>';
centered(ETA, 54, 630, 'rotate(-90deg)');
centered(ETA, 54, 1014, 'rotate(-90deg)');
centered(RHO0, 314, 1191);
centered(RHO0, 763, 1191);
centered(RHO0, 1208, 1191);
const TAG_POS = [[462,748],[908,748],[1356,748],[461,1119],[913,1118],[1358,1119]];
PANEL_TAGS.forEach((t,i)=>centered(`<span style="font-size:21px">${t}</span>`, TAG_POS[i][0], TAG_POS[i][1]));
</script>
</body></html>
